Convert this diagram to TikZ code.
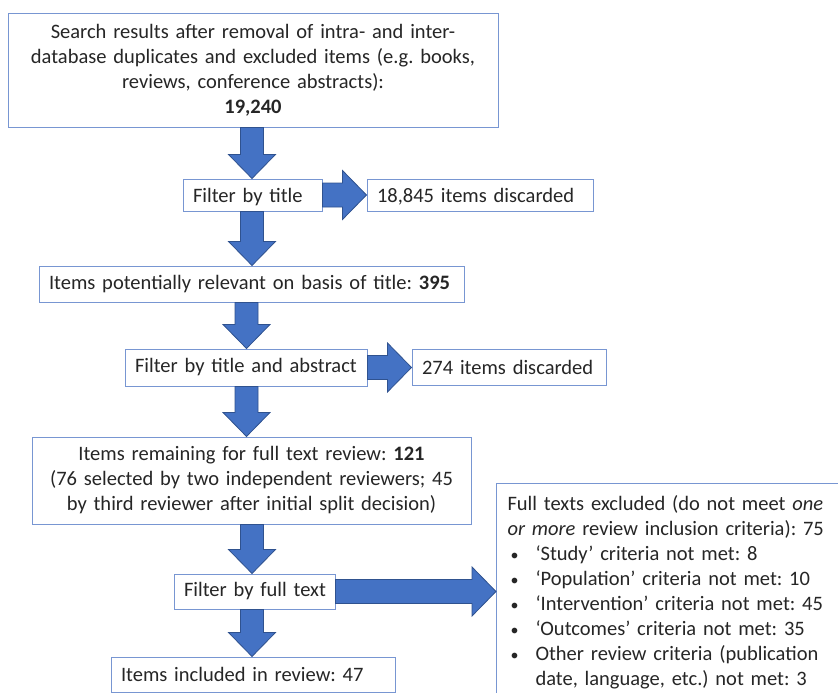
\documentclass[tikz,border=0pt]{standalone}
\usepackage{fontspec}
\setmainfont{Carlito}
\usetikzlibrary{calc}
\definecolor{boxblue}{RGB}{120,150,210}
\definecolor{arrfill}{RGB}{68,114,196}
\definecolor{arredge}{RGB}{47,82,143}
\definecolor{txtgray}{RGB}{38,38,38}
\newcommand{\bul}{\hspace*{3pt}\makebox[25pt][l]{\raisebox{0.8pt}{\fontsize{16}{16}\selectfont\textbullet}}}
\tikzset{
  box/.style={draw=boxblue, line width=1pt, fill=white, inner xsep=10pt, inner ysep=0pt,
              text=txtgray, font=\fontsize{20.5}{25}\selectfont\frenchspacing},
  lbox/.style={box, text width=#1, align=left},
  blockarr/.style={fill=arrfill, draw=arredge, line width=0.8pt, line join=miter},
  blockdown/.style={blockarr, to path={let \p1=(\tikztostart), \p2=(\tikztotarget) in
      (\x1-11.5pt,\y1) -- (\x1+11.5pt,\y1) -- (\x1+11.5pt,\y2+24pt) -- (\x1+23.5pt,\y2+24pt)
      -- (\x1,\y2) -- (\x1-23.5pt,\y2+24pt) -- (\x1-11.5pt,\y2+24pt) -- cycle}},
  blockright/.style={blockarr, to path={let \p1=(\tikztostart), \p2=(\tikztotarget) in
      (\x1,\y1+12pt) -- (\x2-24pt,\y1+12pt) -- (\x2-24pt,\y1+24.5pt) -- (\x2,\y1)
      -- (\x2-24pt,\y1-24.5pt) -- (\x2-24pt,\y1-12pt) -- (\x1,\y1-12pt) -- cycle}},
}

\begin{document}
\begin{tikzpicture}[x=1pt, y=-1pt]
    \useasboundingbox (0,0) rectangle (838,693);
    \coordinate (spine) at (252,0);
    \coordinate (spineb) at (246.5,0);
    \node[box, text width=470pt, minimum height=113pt, align=center] (srch) at (253,70.5)
      {Search results after removal of intra- and inter-\\
       database duplicates and excluded items (e.g. books,\\
       reviews, conference abstracts):\\ \textbf{19,240}};
    \node[lbox=119pt, minimum height=32pt, text depth=0pt] (ftitle) at (252.5,195) {\mbox{Filter by title}};
    \node[lbox=206pt, minimum height=32pt, text depth=0pt] (disc1) at (480,195) {\mbox{18,845 items discarded}};
    \node[lbox=405pt, minimum height=36pt] (pot) at (251.5,284)
      {\mbox{Items potentially relevant on basis of title: \textbf{395}}};
    \node[lbox=222pt, minimum height=37pt] (ftabs) at (246,367.5) {\mbox{Filter by title and abstract}};
    \node[lbox=174pt, minimum height=36pt] (disc2) at (509,367) {\mbox{274 items discarded}};
    \node[box, text width=419pt, minimum height=87pt, align=center] (remain) at (251.5,480.5)
      {Items remaining for full text review: \textbf{121}\\
       (76 selected by two independent reviewers; 45\\
       by third reviewer after initial split decision)};
    \node[lbox=141pt, minimum height=35pt] (ffull) at (254.5,591.5) {\mbox{Filter by full text}};
    \node[lbox=264pt, minimum height=35pt] (incl) at (253,674.5) {\mbox{Items included in review: 47}};
    \node[lbox=380pt, anchor=north west, inner xsep=11pt, inner ysep=12.5pt] (excl) at (496,483)
      {Full texts excluded (do not meet \textit{one}\\
       \textit{or more} review inclusion criteria): 75\\
       \bul‘Study’ criteria not met: 8\\
       \bul‘Population’ criteria not met: 10\\
       \bul‘Intervention’ criteria not met: 45\\
       \bul‘Outcomes’ criteria not met: 35\\
       \bul Other review criteria (publication\\
       \hspace*{28pt}date, language, etc.) not met: 3};
    \draw[blockdown] (srch.south -| spine) to (ftitle.north -| spine);
    \draw[blockdown] (ftitle.south -| spine) to (pot.north -| spine);
    \draw[blockdown] (pot.south -| spineb) to (ftabs.north -| spineb);
    \draw[blockdown] (ftabs.south -| spineb) to (remain.north -| spineb);
    \draw[blockdown] (remain.south -| spine) to (ffull.north -| spine);
    \draw[blockdown] (ffull.south -| spine) to (incl.north -| spine);
    \draw[blockright] (ftitle.east) to (disc1.west);
    \draw[blockright] (ftabs.east) to (disc2.west);
    \draw[blockright] (ffull.east) to (ffull.east -| excl.west);
\end{tikzpicture}
\end{document}
